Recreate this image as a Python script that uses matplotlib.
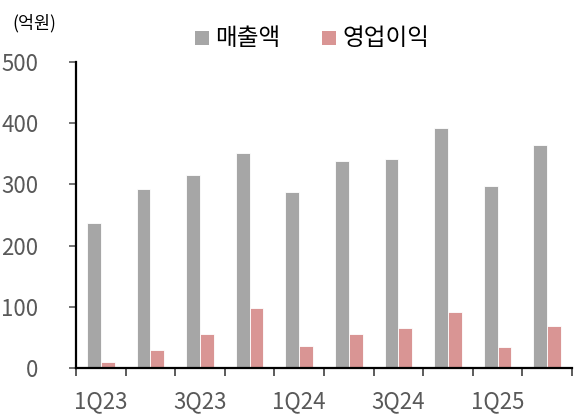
import matplotlib
matplotlib.use("Agg")
import matplotlib.pyplot as plt
import numpy as np
from matplotlib.patches import Rectangle

plt.rcParams['font.family'] = ['Noto Sans CJK KR', 'DejaVu Sans']

quarters = ['1Q23', '2Q23', '3Q23', '4Q23', '1Q24', '2Q24', '3Q24', '4Q24', '1Q25', '2Q25']
revenue = [237, 292, 316, 352, 288, 338, 341, 393, 298, 364]
op_profit = [10, 30, 56, 98, 36, 55, 66, 92, 34, 69]
series_names = ['매출액', '영업이익']
colors = ['#A6A6A6', '#D99594']

fig = plt.figure(figsize=(5.76, 4.16), dpi=100)
ax = fig.add_axes([0.132, 0.115, 0.861, 0.736])

x = np.arange(len(quarters))
w = 0.28
ax.bar(x - w/2, revenue, width=w, color=colors[0], edgecolor='white', linewidth=0.6)
ax.bar(x + w/2, op_profit, width=w, color=colors[1], edgecolor='white', linewidth=0.6)

ax.set_xlim(-0.5, len(quarters) - 0.5)
ax.set_ylim(0, 500)
ax.set_yticks([0, 100, 200, 300, 400, 500])
ax.tick_params(axis='y', direction='out', length=5, width=1.2, color='#595959',
               labelsize=16, labelcolor='#595959', pad=22)

ax.set_xticks(np.arange(len(quarters) + 1) - 0.5, minor=False)
ax.set_xticklabels([])
ax.tick_params(axis='x', direction='out', length=6, width=1.2, color='#404040')
ax.set_xticks(x[::2], minor=True)
ax.set_xticklabels([quarters[i] for i in x[::2]], minor=True)
ax.tick_params(axis='x', which='minor', length=0, labelsize=16, labelcolor='#595959', pad=16)

for s in ['top', 'right']:
    ax.spines[s].set_visible(False)
for s in ['left', 'bottom']:
    ax.spines[s].set_linewidth(1.6)
    ax.spines[s].set_color('black')

fig.text(0.022, 0.945, '(억원)', fontsize=12.5, color='black', va='center', ha='left')

# legend
leg_y = 0.908
sq = 14 / 576
for (lx, name, c) in [(195/576, series_names[0], colors[0]), (322/576, series_names[1], colors[1])]:
    fig.patches.append(Rectangle((lx, leg_y - 7/416), sq, 14/416, transform=fig.transFigure,
                                 facecolor=c, edgecolor='none'))
    fig.text(lx + 20/576, leg_y, name, fontsize=17, color='black', va='center', ha='left')

fig.savefig('out.png', dpi=100)
